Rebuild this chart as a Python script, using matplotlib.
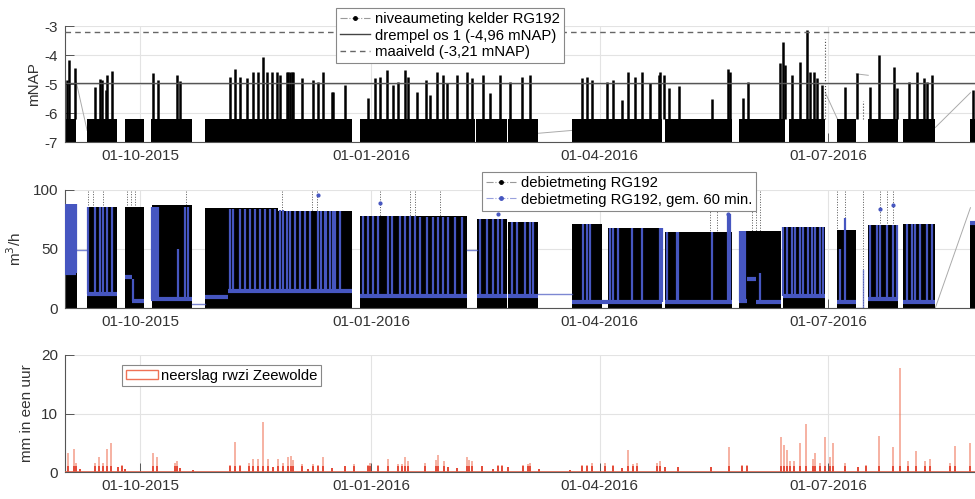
"""Niveau, debiet en neerslag RG192 (sep 2015 - aug 2016), nagetekend uit de figuur."""
from datetime import datetime

import matplotlib

matplotlib.use("Agg")
import matplotlib.dates as mdates
import matplotlib.pyplot as plt
import numpy as np
from matplotlib.lines import Line2D
from matplotlib.patches import Patch

plt.rcParams["font.family"] = ["Liberation Sans", "DejaVu Sans"]
plt.rcParams["font.size"] = 11
plt.rcParams["axes.unicode_minus"] = False

# all times are days since 2015-09-01
T0 = datetime(2015, 9, 1)
TICK_DATES = [datetime(2015, 10, 1), datetime(2016, 1, 1), datetime(2016, 4, 1), datetime(2016, 7, 1)]
TICK_LABELS = ["01-10-2015", "01-01-2016", "01-04-2016", "01-07-2016"]

DREMPEL = -4.96
MAAIVELD = -3.21

# --- niveaumeting kelder (mNAP): periods with data, pump cycling band, peaks
LEVEL_START = [0.0, 8.8, 23.9, 34.3, 55.8, 117.5, 163.7, 176.5, 202.0, 239.0, 268.5, 288.4, 307.6, 319.9, 333.9, 360.6]
LEVEL_END = [4.4, 20.7, 31.5, 50.6, 114.3, 163.3, 176.1, 188.4, 237.8, 265.7, 286.9, 302.8, 315.1, 331.9, 346.6, 366.0]
LEVEL_LOW, LEVEL_HIGH = -7.0, -6.2
PEAK_DAY = [0.7, 1.7, 4.0, 12.0, 13.9, 14.6, 16.3, 16.6, 18.6, 35.2,
            37.2, 44.5, 45.8, 65.7, 67.7, 69.7, 72.4, 75.0, 77.0, 79.0,
            80.4, 82.4, 84.3, 85.7, 88.3, 89.0, 89.7, 90.4, 91.0, 94.3,
            98.9, 100.9, 102.9, 106.2, 106.9, 111.6, 120.8, 123.5, 125.5, 128.2,
            130.8, 132.8, 135.5, 136.8, 140.1, 143.8, 145.4, 148.1, 150.7, 152.1,
            156.0, 160.0, 162.0, 166.4, 169.3, 173.3, 177.3, 181.9, 185.3, 205.9,
            207.8, 209.8, 215.8, 218.4, 221.8, 224.4, 227.1, 229.8, 233.1, 236.4,
            237.1, 238.4, 240.4, 244.7, 257.6, 263.9, 264.9, 270.2, 272.2, 284.9,
            285.9, 286.9, 289.5, 292.8, 295.5, 296.8, 298.1, 299.5, 301.5, 310.8,
            315.5, 320.7, 324.0, 330.0, 331.3, 336.0, 339.3, 342.0, 343.3, 345.3,
            361.6]
PEAK_VAL = [-4.85, -4.17, -4.46, -5.09, -4.84, -4.86, -5.2, -4.69, -4.55, -4.63,
            -4.85, -4.69, -4.9, -4.75, -4.48, -4.75, -4.8, -4.58, -4.58, -4.08,
            -4.58, -4.58, -4.58, -4.69, -4.58, -4.6, -4.58, -4.6, -4.58, -4.8,
            -4.86, -4.92, -4.58, -5.27, -5.27, -5.03, -5.49, -4.8, -4.75, -4.52,
            -5.03, -4.92, -4.52, -4.75, -5.27, -4.86, -5.38, -4.58, -4.69, -4.98,
            -4.69, -4.58, -4.8, -4.69, -5.32, -4.69, -4.92, -4.75, -4.69, -4.8,
            -4.75, -4.86, -4.92, -4.86, -5.55, -4.58, -4.75, -4.58, -4.98, -4.69,
            -4.58, -4.69, -5.15, -5.07, -5.5, -4.47, -4.58, -5.49, -4.92, -4.29,
            -3.54, -4.35, -4.69, -4.23, -3.14, -4.58, -4.58, -4.8, -5.03, -5.09,
            -4.62, -5.09, -4.0, -4.41, -5.15, -4.92, -4.58, -4.8, -4.92, -4.69,
            -5.21]
LEVEL_LINK_DAY = [(4.4, 8.8), (188.4, 202.0), (302.8, 307.6), (315.1, 319.9), (346.6, 360.6)]
LEVEL_LINK_VAL = [(-4.9, -6.6), (-6.7, -6.6), (-5.3, -6.2), (-4.65, -4.7), (-6.5, -5.3)]
LEVEL_DOT_DAY = [302.8, 317.8]
LEVEL_DOT_VAL = [-3.45, -5.6]

# --- debietmeting (m3/h): periods, height of the pump band
FLOW_START = [0.0, 8.8, 23.9, 34.7, 55.8, 85.0, 117.5, 164.1, 176.5, 202.0, 216.3, 239.0, 268.5, 286.0, 307.6, 319.9, 333.9, 360.6]
FLOW_END = [4.8, 20.7, 31.5, 50.6, 85.0, 114.3, 160.2, 176.1, 188.4, 214.0, 237.8, 265.7, 285.0, 302.8, 315.1, 331.9, 346.6, 366.0]
FLOW_TOP = [88, 86, 86, 87, 85, 82, 78, 75, 73, 71, 68, 64.5, 65, 69, 66, 70, 71, 73]
OVER_DAY = [9.2, 11.2, 15.1, 24.7, 26.3, 27.9, 48.2, 86.5, 98.4, 100.4, 125.5, 137.5, 139.4,
            149.4, 257.0, 259.8, 273.7, 275.3, 276.9, 307.6, 310.8, 317.8, 324.7, 327.5, 329.9]

# 60-min average: base level per stretch and excursions
AVG_START = [0.0, 8.8, 23.9, 26.5, 34.3, 55.8, 65.0, 117.5, 164.1, 176.5, 202.0, 239.0, 268.5, 271.7, 275.0, 286.0, 307.6, 319.9, 333.9, 360.6]
AVG_END = [4.4, 20.7, 26.5, 31.5, 50.6, 65.0, 114.3, 160.2, 176.1, 188.4, 237.8, 265.7, 271.7, 275.0, 285.0, 302.8, 315.1, 331.9, 346.6, 366.0]
AVG_BASE = [30, 12, 26, 6, 8, 9, 14, 10, 10, 10, 5, 5, 6, 25, 5, 10, 5, 8, 5, 72]
AVG_SPIKE_DAY = [0.2, 0.6, 1.0, 1.4, 1.8, 2.2, 2.6, 3.0, 3.6, 4.2,
                 9.2, 12.0, 13.9, 15.1, 16.7, 18.7, 27.1, 34.7, 35.5, 36.3,
                 37.0, 45.0, 47.8, 49.0, 65.7, 66.9, 69.7, 71.7, 73.7, 75.7,
                 77.7, 79.7, 81.7, 83.7, 85.7, 86.9, 88.4, 89.6, 91.6, 93.6,
                 95.6, 97.6, 100.8, 102.0, 103.6, 104.0, 105.6, 106.8, 107.6, 109.6,
                 118.7, 120.7, 122.7, 124.7, 128.7, 130.3, 133.5, 135.5, 137.5, 139.4,
                 141.4, 144.2, 146.6, 148.6, 150.6, 152.6, 155.4, 158.2, 165.3, 168.1,
                 170.5, 172.5, 174.1, 178.1, 180.1, 183.3, 185.3, 186.5, 206.4, 208.0,
                 209.2, 217.1, 218.3, 220.3, 225.9, 229.9, 237.1, 237.8, 239.8, 243.8,
                 244.2, 257.8, 264.1, 264.9, 268.9, 269.7, 270.1, 270.9, 276.9, 286.1,
                 287.6, 289.6, 290.8, 292.8, 294.0, 296.0, 297.6, 298.8, 300.8, 302.0,
                 308.8, 310.8, 320.7, 323.5, 324.7, 327.5, 329.9, 331.5, 335.5, 337.5,
                 338.6, 340.6, 343.4, 345.4]
AVG_SPIKE_VAL = [88, 88, 88, 88, 88, 88, 88, 88, 88, 88,
                 86, 86, 86, 86, 86, 86, 25, 86, 86, 86,
                 86, 50, 86, 86, 84, 84, 84, 84, 84, 84,
                 84, 84, 84, 84, 83, 83, 82, 82, 82, 82,
                 82, 82, 82, 82, 82, 82, 82, 82, 82, 82,
                 78, 78, 78, 78, 78, 78, 78, 78, 78, 78,
                 77, 77, 77, 77, 77, 77, 77, 77, 75, 75,
                 75, 75, 75, 73, 73, 73, 73, 73, 71, 71,
                 71, 68, 68, 68, 68, 68, 68, 68, 64, 64,
                 64, 64, 80, 80, 65, 65, 65, 65, 30, 69,
                 69, 69, 69, 69, 69, 69, 69, 69, 69, 69,
                 50, 76, 70, 70, 70, 70, 70, 70, 71, 71,
                 71, 71, 71, 71]
AVG_LINK_DAY = [(4.4, 8.8), (50.6, 55.8), (160.2, 164.1), (188.4, 202.0), (315.1, 317.8), (317.8, 317.8)]
AVG_LINK_VAL = [(49, 49), (3, 3), (49, 49), (12, 12), (0, 0), (0, 32)]
AVG_DOT_DAY = [100.8, 125.5, 172.6, 264.1, 324.7, 329.9]
AVG_DOT_VAL = [95.7, 89, 80, 80, 84, 87]
FLOW_GAP_DAY = (346.6, 360.6)
FLOW_GAP_VAL = (0, 85)

# --- neerslag rwzi Zeewolde (mm per uur)
RAIN_DAY = [1.3, 3.6, 4.3, 6.0, 12.0, 13.7, 15.3, 16.6, 18.2, 21.2,
            22.6, 23.9, 34.9, 36.5, 43.8, 44.7, 45.8, 51.1, 65.7, 67.7,
            69.7, 73.4, 75.0, 77.0, 78.8, 81.0, 83.0, 85.0, 87.0, 89.0,
            89.9, 91.0, 94.3, 96.9, 98.9, 100.9, 102.7, 106.2, 111.6, 114.9,
            120.8, 121.5, 124.8, 128.6, 132.8, 134.1, 135.5, 136.8, 143.4, 147.8,
            148.7, 151.0, 152.5, 156.0, 160.0, 161.0, 162.0, 166.0, 170.6, 172.6,
            174.0, 176.6, 182.6, 184.3, 185.3, 188.6, 201.2, 205.9, 207.8, 209.8,
            215.1, 218.4, 221.8, 224.4, 226.4, 227.8, 235.7, 237.1, 239.0, 244.3,
            257.2, 264.3, 269.6, 271.8, 285.3, 286.2, 287.5, 288.8, 290.2, 292.6,
            295.2, 297.9, 298.8, 300.8, 302.5, 304.5, 305.7, 310.8, 315.7, 319.1,
            324.0, 329.8, 332.4, 335.8, 339.1, 342.6, 344.6, 352.6, 354.3, 360.6]
RAIN_MM = [3.2, 3.9, 1.5, 0.5, 1.6, 2.6, 1.5, 3.9, 4.9, 0.8,
           1.2, 0.5, 3.3, 2.6, 1.5, 1.8, 0.6, 0.3, 1.2, 5.2,
           1.2, 1.6, 2.2, 2.3, 8.6, 2.2, 0.9, 2.3, 1.5, 2.6,
           2.7, 2.1, 1.4, 0.5, 1.4, 1.2, 2.6, 0.6, 1.0, 1.4,
           1.2, 1.5, 1.2, 2.3, 1.4, 1.4, 2.6, 1.8, 1.5, 2.1,
           2.9, 1.9, 0.8, 0.6, 2.6, 2.1, 1.9, 1.0, 0.5, 1.2,
           1.2, 0.9, 1.2, 1.4, 1.5, 0.5, 0.3, 1.2, 1.2, 1.5,
           1.5, 1.2, 0.6, 3.8, 1.4, 1.5, 1.5, 1.9, 0.9, 0.9,
           0.9, 4.3, 1.2, 1.2, 5.9, 4.6, 3.8, 1.8, 1.8, 4.9,
           8.2, 2.3, 3.2, 1.5, 5.9, 2.5, 4.9, 1.5, 0.9, 1.2,
           6.2, 4.2, 17.7, 1.8, 3.6, 1.8, 2.3, 1.5, 4.4, 4.9]

TXT = "#333333"
GRID = "#e3e3e3"
BLUE = "#4656c0"
RAIN_C = "#ef7256"

t0 = mdates.date2num(T0)


def d(days):
    return t0 + np.asarray(days, dtype=float)


def style(ax, ylim, yticks):
    ax.set_xlim(t0, t0 + 366)
    ax.set_ylim(*ylim)
    ax.set_yticks(yticks)
    ax.set_xticks(mdates.date2num(TICK_DATES))
    ax.set_xticklabels(TICK_LABELS)
    ax.grid(True, color=GRID, lw=0.8)
    ax.set_axisbelow(True)
    for s in ("top", "right"):
        ax.spines[s].set_visible(False)
    for s in ("left", "bottom"):
        ax.spines[s].set_color("#555555")
        ax.spines[s].set_linewidth(0.8)
    ax.tick_params(direction="in", length=6.5, width=0.7, color="#555555",
                   labelcolor=TXT, labelsize=11, pad=5)


fig = plt.figure(figsize=(9.75, 4.99), dpi=100)
L, W = 65 / 975, 919 / 975
ax1 = fig.add_axes([L, 1 - 142 / 499, W, 116 / 499])
ax2 = fig.add_axes([L, 1 - 308 / 499, W, 118 / 499])
ax3 = fig.add_axes([L, 1 - 472 / 499, W, 117 / 499])

# top: level
for s, e in zip(LEVEL_START, LEVEL_END):
    ax1.fill_between(d([s, e]), LEVEL_LOW, LEVEL_HIGH, color="k", lw=0, zorder=2)
ax1.vlines(d(PEAK_DAY), LEVEL_HIGH, PEAK_VAL, color="k", lw=1.8, zorder=2)
for (a, b), (va, vb) in zip(LEVEL_LINK_DAY, LEVEL_LINK_VAL):
    ax1.plot(d([a, b]), [va, vb], color="#aaaaaa", lw=0.7, zorder=1)
ax1.vlines(d(LEVEL_DOT_DAY), -6.2, LEVEL_DOT_VAL, color="#444444", lw=0.8, ls=":", zorder=2)
ax1.axhline(DREMPEL, color="#555555", lw=1.0, zorder=3)
ax1.axhline(MAAIVELD, color="#666666", lw=1.0, ls=(0, (4, 3)), zorder=3)
style(ax1, (-7, -3), [-7, -6, -5, -4, -3])
ax1.set_ylabel("mNAP", color=TXT, fontsize=11)
ax1.yaxis.set_label_coords(-0.026, 0.5)

h1 = [Line2D([], [], color="#999999", lw=0.8, ls="-.", marker=".", ms=5, mfc="k", mec="k"),
      Line2D([], [], color="#444444", lw=1.0),
      Line2D([], [], color="#666666", lw=1.0, ls=(0, (4, 3)))]
lg1 = ax1.legend(h1, ["niveaumeting kelder RG192", "drempel os 1 (-4,96 mNAP)", "maaiveld (-3,21 mNAP)"],
                 loc="upper left", bbox_to_anchor=(336 / 975, 1 - 8 / 499), bbox_transform=fig.transFigure,
                 borderaxespad=0, fancybox=False, framealpha=1, edgecolor="#888888", fontsize=10.7,
                 handlelength=2.0, handletextpad=0.3, labelspacing=0.15, borderpad=0.3, numpoints=1)
lg1.get_frame().set_linewidth(0.8)
lg1.set_zorder(10)

# middle: flow
ax2.vlines(d(OVER_DAY), 0, 100, color="#555555", lw=0.7, ls=":", zorder=1)
for s, e, top in zip(FLOW_START, FLOW_END, FLOW_TOP):
    ax2.fill_between(d([s, e]), 0, top, color="k", lw=0, zorder=2)
ax2.plot(d(FLOW_GAP_DAY), FLOW_GAP_VAL, color="#aaaaaa", lw=0.7, zorder=1)
ax2.hlines(AVG_BASE, d(AVG_START), d(AVG_END), color=BLUE, lw=3.0, zorder=3)
spike_base = []
for sd in AVG_SPIKE_DAY:
    base = 5
    for s, e, b in zip(AVG_START, AVG_END, AVG_BASE):
        if s <= sd <= e:
            base = b
    spike_base.append(base)
ax2.vlines(d(AVG_SPIKE_DAY), spike_base, AVG_SPIKE_VAL, color=BLUE, lw=1.6, zorder=3)
for (a, b), (va, vb) in zip(AVG_LINK_DAY, AVG_LINK_VAL):
    ax2.plot(d([a, b]), [va, vb], color=BLUE, lw=1.0, alpha=0.7, zorder=3)
ax2.plot(d(AVG_DOT_DAY), AVG_DOT_VAL, ".", color=BLUE, ms=4, zorder=3)
style(ax2, (0, 100), [0, 50, 100])
ax2.set_ylabel("m$^3$/h", color=TXT, fontsize=11)
ax2.yaxis.set_label_coords(-0.045, 0.5)

h2 = [Line2D([], [], color="#999999", lw=0.8, ls="-.", marker=".", ms=5, mfc="k", mec="k"),
      Line2D([], [], color="#9aa2dd", lw=0.8, ls="-.", marker=".", ms=5, mfc=BLUE, mec=BLUE)]
lg2 = ax2.legend(h2, ["debietmeting RG192", "debietmeting RG192, gem. 60 min."],
                 loc="upper left", bbox_to_anchor=(482 / 975, 1 - 172 / 499), bbox_transform=fig.transFigure,
                 borderaxespad=0, fancybox=False, framealpha=1, edgecolor="#888888", fontsize=10.7,
                 handlelength=2.0, handletextpad=0.3, labelspacing=0.15, borderpad=0.3, numpoints=1)
lg2.get_frame().set_linewidth(0.8)
lg2.set_zorder(10)

# bottom: rain
rain = np.asarray(RAIN_MM)
ax3.vlines(d(RAIN_DAY), 0, rain, color=RAIN_C, lw=1.4, alpha=0.55, zorder=2)
ax3.vlines(d(RAIN_DAY), 0, np.minimum(rain, 1.0), color="#e0301e", lw=1.4, alpha=0.8, zorder=2)
ax3.axhline(0, color="#d9604a", lw=1.2, zorder=3)
style(ax3, (0, 20), [0, 10, 20])
ax3.set_ylabel("mm in een uur", color=TXT, fontsize=11)
ax3.yaxis.set_label_coords(-0.034, 0.5)

lg3 = ax3.legend([Patch(facecolor="white", edgecolor=RAIN_C, lw=1.0)], ["neerslag rwzi Zeewolde"],
                 loc="upper left", bbox_to_anchor=(122 / 975, 1 - 365 / 499), bbox_transform=fig.transFigure,
                 borderaxespad=0, fancybox=False, framealpha=1, edgecolor="#888888", fontsize=10.7,
                 handlelength=2.2, handleheight=0.6, handletextpad=0.2, borderpad=0.25)
lg3.get_frame().set_linewidth(0.8)

fig.savefig("out.png", dpi=100)
